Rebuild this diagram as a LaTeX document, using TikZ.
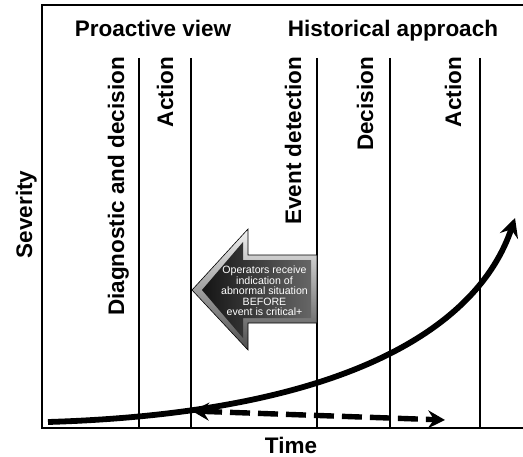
\documentclass[tikz,border=0pt]{standalone}
\usepackage{fontspec}
\setmainfont{Liberation Sans}
\usetikzlibrary{arrows.meta}
\tikzset{
  lbl/.style={font=\fontsize{22.5bp}{27bp}\selectfont\bfseries, inner sep=0pt},
  vlbl/.style={lbl, rotate=90, anchor=base east},
  frameline/.style={line width=1.6bp, black},
  phase/.style={line width=1.4bp, black},
  curve/.style={line width=5.8bp, -{Stealth[length=19bp,width=19bp,inset=7bp]}},
  dasharrow/.style={line width=5.4bp, dash pattern=on 20bp off 8bp,
     {Stealth[length=17bp,width=18bp,inset=6bp]}-{Stealth[length=17bp,width=18bp,inset=6bp]}},
  arrowtext/.style={text=white, align=center, inner sep=0pt,
     font=\fontsize{10.6bp}{10.5bp}\selectfont}
}
\begin{document}
\begin{tikzpicture}[x=1bp,y=-1bp]
\useasboundingbox (0,0) rectangle (523,457);
% frame
\coordinate (tr) at (523,5);
\coordinate (tl) at (42,5);
\coordinate (bl) at (42,428);
\coordinate (br) at (523,428);
\draw[frameline] (tr) -- (tl) -- (bl) -- (br);
% phase lines
\foreach \n/\x in {p1/139,p2/191,p3/317,p4/390,p5/480}{
  \coordinate (\n t) at (\x,58);
  \coordinate (\n b) at (\x,428);
  \draw[phase] (\n t) -- (\n b);
}
% titles
\node[lbl, anchor=base] (proactive) at (153,37) {Proactive view};
\node[lbl, anchor=base] (historical) at (393,37) {Historical approach};
\node[lbl, anchor=base] (time) at (291,453) {Time};
\node[lbl, rotate=90, anchor=base] (severity) at (32,214.5) {Severity};
% phase labels
\node[vlbl] (diag) at (124,57) {Diagnostic and decision};
\node[vlbl] (act1) at (173,57) {Action};
\node[vlbl] (event) at (301,57) {Event detection};
\node[vlbl] (dec) at (373,57) {Decision};
\node[vlbl] (act2) at (461,57) {Action};
% big 3D arrow
\path[draw=black, line width=0.6bp, top color=gray!10, bottom color=black!70]
  (192,290) -- (248,229) -- (248,255) -- (317,255) -- (317,323) -- (248,323) -- (248,350) -- cycle;
\path[left color=black!92, right color=black!60]
  (202,290) -- (243,242) -- (243,260) -- (311,260) -- (311,318) -- (243,318) -- (243,338) -- cycle;
\node[arrowtext] (msg) at (264.5,291) {Operators receive\\indication of\\abnormal situation\\BEFORE\\event is critical+};
% severity curve
\coordinate (c0) at (48,422);
\coordinate (c1) at (345,413);
\coordinate (c2) at (478,328);
\coordinate (c3) at (515,218);
\draw[curve] (c0) .. controls (c1) and (c2) .. (c3);
% dashed gain arrow
\coordinate (d0) at (192,411);
\coordinate (d1) at (445,420);
\draw[dasharrow] (d0) -- (d1);
\end{tikzpicture}
\end{document}
